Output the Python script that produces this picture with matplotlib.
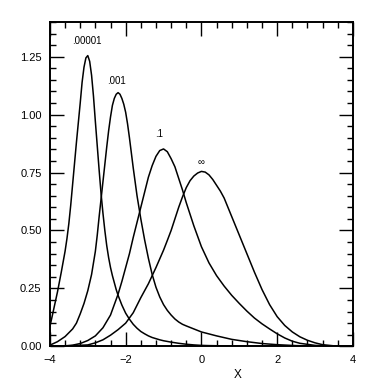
import matplotlib
matplotlib.use("Agg")
from matplotlib import pyplot as plt
from matplotlib.ticker import MultipleLocator

# curve ".00001"
x_a = [-4.0, -3.9, -3.8, -3.7, -3.6, -3.55, -3.5, -3.45, -3.4, -3.35, -3.3, -3.25, -3.2, -3.15,
       -3.1, -3.05, -3.0, -2.95, -2.9, -2.85, -2.8, -2.75, -2.7, -2.65, -2.6, -2.55, -2.5, -2.45,
       -2.4, -2.35, -2.3, -2.25, -2.2, -2.1, -2.0, -1.9, -1.8, -1.7, -1.6, -1.5, -1.4, -1.3,
       -1.2, -1.1, -1.0, -0.8, -0.6, -0.4, -0.2, 0.0, 0.2, 0.6, 1.0, 2.0, 4.0]
y_a = [0.085, 0.16, 0.235, 0.32, 0.41, 0.465, 0.53, 0.61, 0.70, 0.79, 0.88, 0.965, 1.05, 1.14,
       1.205, 1.245, 1.255, 1.23, 1.17, 1.08, 0.97, 0.865, 0.76, 0.66, 0.575, 0.50, 0.435, 0.383,
       0.34, 0.305, 0.275, 0.245, 0.22, 0.178, 0.143, 0.117, 0.095, 0.078, 0.064, 0.054, 0.045, 0.038,
       0.033, 0.028, 0.024, 0.018, 0.013, 0.009, 0.006, 0.004, 0.003, 0.002, 0.001, 0.0, 0.0]

# curve ".001"
x_b = [-4.0, -3.8, -3.6, -3.4, -3.3, -3.2, -3.1, -3.0, -2.9, -2.8, -2.75, -2.7, -2.6, -2.5,
       -2.45, -2.4, -2.35, -2.3, -2.25, -2.2, -2.15, -2.1, -2.05, -2.0, -1.95, -1.9, -1.8, -1.7,
       -1.6, -1.5, -1.4, -1.3, -1.2, -1.1, -1.0, -0.9, -0.8, -0.7, -0.6, -0.5, -0.4, -0.2,
       0.0, 0.4, 0.8, 1.2, 1.6, 2.0, 2.5, 3.0, 4.0]
y_b = [0.005, 0.02, 0.042, 0.075, 0.10, 0.14, 0.185, 0.24, 0.31, 0.41, 0.48, 0.56, 0.71, 0.86,
       0.93, 0.99, 1.04, 1.07, 1.088, 1.095, 1.088, 1.07, 1.045, 1.01, 0.96, 0.90, 0.77, 0.65,
       0.55, 0.46, 0.38, 0.31, 0.255, 0.213, 0.18, 0.155, 0.135, 0.118, 0.105, 0.095, 0.088, 0.075,
       0.062, 0.045, 0.03, 0.02, 0.012, 0.007, 0.003, 0.001, 0.0]

# curve ".1"
x_c = [-4.0, -3.6, -3.4, -3.2, -3.0, -2.8, -2.6, -2.4, -2.2, -2.1, -2.0, -1.9, -1.8, -1.7,
       -1.6, -1.5, -1.4, -1.3, -1.2, -1.1, -1.0, -0.9, -0.8, -0.7, -0.6, -0.5, -0.4, -0.3,
       -0.2, -0.1, 0.0, 0.2, 0.4, 0.6, 0.8, 1.0, 1.2, 1.4, 1.6, 1.8, 2.0, 2.2,
       2.4, 2.6, 3.0, 3.5, 4.0]
y_c = [0.0, 0.002, 0.005, 0.012, 0.025, 0.045, 0.08, 0.135, 0.225, 0.28, 0.34, 0.40, 0.47, 0.535,
       0.60, 0.665, 0.73, 0.78, 0.82, 0.845, 0.852, 0.84, 0.81, 0.775, 0.725, 0.675, 0.62, 0.57,
       0.52, 0.475, 0.43, 0.36, 0.305, 0.26, 0.22, 0.185, 0.152, 0.122, 0.097, 0.075, 0.054, 0.036,
       0.022, 0.013, 0.004, 0.001, 0.0]

# curve "infinity"
x_d = [-4.0, -3.5, -3.0, -2.8, -2.6, -2.4, -2.2, -2.0, -1.8, -1.6, -1.4, -1.2, -1.0, -0.9,
       -0.8, -0.7, -0.6, -0.5, -0.4, -0.3, -0.2, -0.1, 0.0, 0.1, 0.2, 0.3, 0.4, 0.5,
       0.6, 0.7, 0.8, 0.9, 1.0, 1.2, 1.4, 1.6, 1.8, 2.0, 2.2, 2.4, 2.6, 2.8,
       3.0, 3.2, 3.5, 4.0]
y_d = [0.0, 0.002, 0.006, 0.015, 0.028, 0.048, 0.072, 0.10, 0.145, 0.21, 0.27, 0.34, 0.415, 0.457,
       0.50, 0.55, 0.60, 0.645, 0.685, 0.715, 0.735, 0.748, 0.755, 0.752, 0.74, 0.72, 0.695, 0.67,
       0.64, 0.60, 0.56, 0.52, 0.48, 0.40, 0.32, 0.245, 0.18, 0.128, 0.09, 0.062, 0.041, 0.026,
       0.015, 0.007, 0.002, 0.0]

labels = [".00001", ".001", ".1", "\u221e"]
label_x = [-3.03, -2.23, -1.12, 0.0]
label_y = [1.317, 1.144, 0.915, 0.797]

yticks = [0.0, 0.25, 0.5, 0.75, 1.0, 1.25]
xticks = [-4, -2, 0, 2, 4]

plt.rcParams['font.family'] = ['Liberation Sans', 'DejaVu Sans']

fig = plt.figure(figsize=(3.81, 3.83), dpi=100)
ax = fig.add_axes([0.131, 0.0958, 0.7953, 0.8468])

for xs, ys in [(x_a, y_a), (x_b, y_b), (x_c, y_c), (x_d, y_d)]:
    ax.plot(xs, ys, color='black', lw=1.1)

for t, lx, ly in zip(labels, label_x, label_y):
    ax.text(lx, ly, t, ha='center', va='center', fontsize=7)

ax.set_xlim(-4, 4)
ax.set_ylim(0, 1.4)
ax.set_xticks(xticks)
ax.set_xticklabels(["\u22124", "\u22122", "0", "2", "4"])
ax.set_yticks(yticks)
ax.set_yticklabels(["0.00", "0.25", "0.50", "0.75", "1.00", "1.25"])
ax.xaxis.set_minor_locator(MultipleLocator(0.4))
ax.yaxis.set_minor_locator(MultipleLocator(0.05))
ax.tick_params(which='both', direction='in', top=True, right=True, labelsize=8, width=1)
ax.tick_params(which='major', length=10, pad=6)
ax.tick_params(which='minor', length=4)
for s in ax.spines.values():
    s.set_linewidth(1.4)

ax.set_xlabel("X", fontsize=8.5)
ax.xaxis.set_label_coords(0.62, -0.07)

fig.savefig('out.png', dpi=100)
